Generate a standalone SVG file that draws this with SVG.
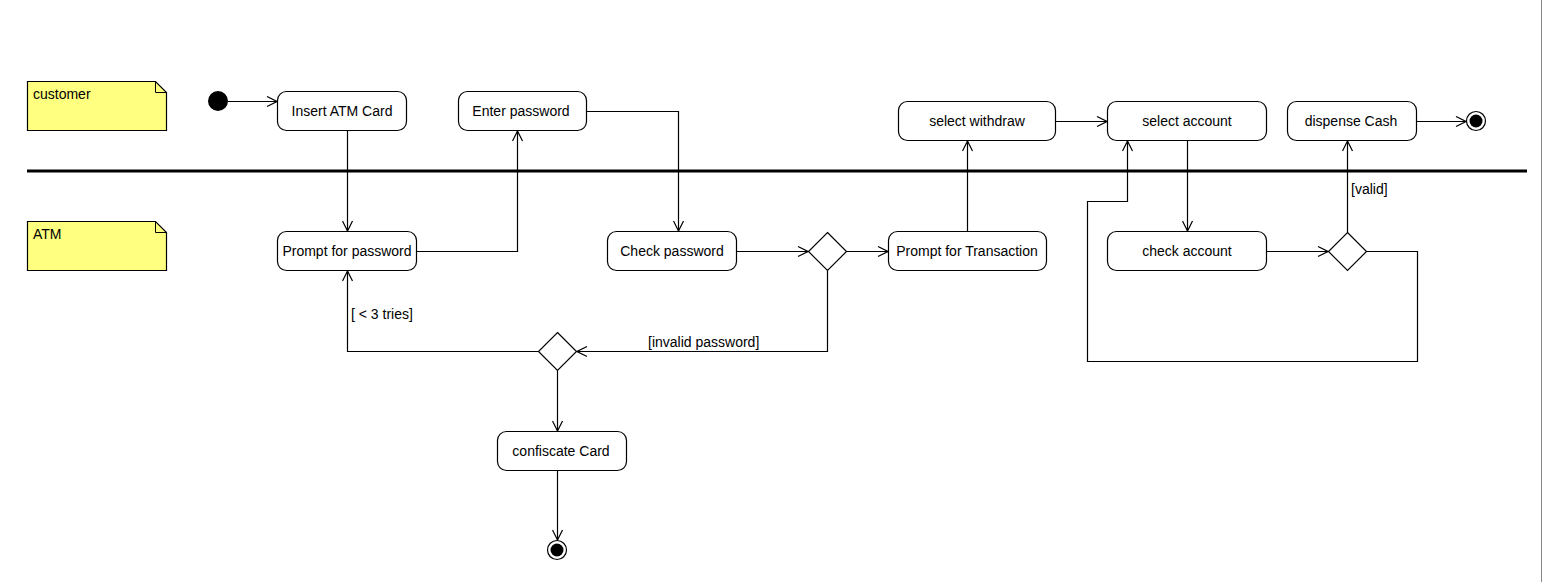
<svg xmlns="http://www.w3.org/2000/svg" width="1545" height="582" viewBox="0 0 1545 582">
<style>
.n{fill:#fff;stroke:#000;stroke-width:1.2}
.t{font-family:"Liberation Sans",Arial,sans-serif;font-size:14px;fill:#000}
.c{fill:none;stroke:#000;stroke-width:1.2}
.note{fill:#ffff80;stroke:#000;stroke-width:1.2}
</style>
<defs>
<marker id="a" markerWidth="12" markerHeight="12" viewBox="0 0 12 12" refX="11" refY="6" orient="auto" markerUnits="userSpaceOnUse">
<path d="M1,1 L11,6 L1,11" fill="none" stroke="#000" stroke-width="1.2"/>
</marker>
</defs>
<rect x="0" y="0" width="1545" height="582" fill="#fff"/>
<line x1="1541.5" y1="0" x2="1541.5" y2="582" stroke="#888" stroke-width="1"/>
<line x1="27" y1="171" x2="1527" y2="171" stroke="#000" stroke-width="3"/>

<g id="note-customer">
<path class="note" d="M27.5,81.5 H155.5 L166.5,92.5 V130.5 H27.5 Z"/>
<path d="M155.5,81.5 V92.5 H166.5" fill="none" stroke="#000" stroke-width="1"/>
<text class="t" x="33" y="99">customer</text>
</g>
<g id="note-atm">
<path class="note" d="M27.5,221.5 H155.5 L166.5,232.5 V270.5 H27.5 Z"/>
<path d="M155.5,221.5 V232.5 H166.5" fill="none" stroke="#000" stroke-width="1"/>
<text class="t" x="33" y="239">ATM</text>
</g>

<g id="start"><circle cx="218" cy="101" r="10" fill="#000"/></g>

<g id="insert-card"><rect class="n" x="277.5" y="91.5" width="129" height="39" rx="9"/><text class="t" x="342" y="116" text-anchor="middle">Insert ATM Card</text></g>
<g id="enter-password"><rect class="n" x="458.5" y="91.5" width="128" height="39" rx="9"/><text class="t" x="521" y="116" text-anchor="middle">Enter password</text></g>
<g id="select-withdraw"><rect class="n" x="898.5" y="101.5" width="157" height="39" rx="9"/><text class="t" x="977" y="126" text-anchor="middle">select withdraw</text></g>
<g id="select-account"><rect class="n" x="1107.5" y="101.5" width="159" height="39" rx="9"/><text class="t" x="1187" y="126" text-anchor="middle">select account</text></g>
<g id="dispense-cash"><rect class="n" x="1287.5" y="101.5" width="129" height="39" rx="9"/><text class="t" x="1351" y="126" text-anchor="middle">dispense Cash</text></g>
<g id="end1"><circle cx="1476" cy="121" r="9.5" fill="#fff" stroke="#000" stroke-width="1.2"/><circle cx="1476" cy="121" r="6.5" fill="#000"/></g>

<g id="prompt-password"><rect class="n" x="277.5" y="231.5" width="139" height="39" rx="9"/><text class="t" x="347" y="256" text-anchor="middle">Prompt for password</text></g>
<g id="check-password"><rect class="n" x="607.5" y="231.5" width="129" height="39" rx="9"/><text class="t" x="672" y="256" text-anchor="middle">Check password</text></g>
<g id="decision1"><path class="n" d="M827.5,232.5 L846.5,251.5 L827.5,270.5 L808.5,251.5 Z"/></g>
<g id="prompt-transaction"><rect class="n" x="888.5" y="231.5" width="158" height="39" rx="9"/><text class="t" x="967" y="256" text-anchor="middle">Prompt for Transaction</text></g>
<g id="check-account"><rect class="n" x="1107.5" y="231.5" width="159" height="39" rx="9"/><text class="t" x="1187" y="256" text-anchor="middle">check account</text></g>
<g id="decision2"><path class="n" d="M1347.5,232.5 L1366.5,251.5 L1347.5,270.5 L1328.5,251.5 Z"/></g>
<g id="decision3"><path class="n" d="M557.5,332.5 L576.5,351.5 L557.5,370.5 L538.5,351.5 Z"/></g>
<g id="confiscate-card"><rect class="n" x="497.5" y="431.5" width="129" height="39" rx="9"/><text class="t" x="561" y="456" text-anchor="middle">confiscate Card</text></g>
<g id="end2"><circle cx="557" cy="550" r="9.5" fill="#fff" stroke="#000" stroke-width="1.2"/><circle cx="557" cy="550" r="6.5" fill="#000"/></g>

<g id="connectors">
<path class="c" d="M228,101.5 H277" marker-end="url(#a)"/>
<path class="c" d="M347.5,130.5 V231" marker-end="url(#a)"/>
<path class="c" d="M416.5,251.5 H517.5 V131" marker-end="url(#a)"/>
<path class="c" d="M586.5,111.5 H678.5 V231" marker-end="url(#a)"/>
<path class="c" d="M736.5,251.5 H808" marker-end="url(#a)"/>
<path class="c" d="M846.5,251.5 H888" marker-end="url(#a)"/>
<path class="c" d="M967.5,231.5 V141" marker-end="url(#a)"/>
<path class="c" d="M1055.5,121.5 H1107" marker-end="url(#a)"/>
<path class="c" d="M1187.5,140.5 V231" marker-end="url(#a)"/>
<path class="c" d="M1266.5,251.5 H1328" marker-end="url(#a)"/>
<path class="c" d="M1347.5,232.5 V141" marker-end="url(#a)"/>
<path class="c" d="M1366.5,251.5 H1417.5 V361.5 H1087.5 V201.5 H1127.5 V141" marker-end="url(#a)"/>
<path class="c" d="M1416.5,121.5 H1466" marker-end="url(#a)"/>
<path class="c" d="M827.5,270.5 V351.5 H577" marker-end="url(#a)"/>
<path class="c" d="M538.5,351.5 H347.5 V271" marker-end="url(#a)"/>
<path class="c" d="M557.5,370.5 V431" marker-end="url(#a)"/>
<path class="c" d="M557.5,470.5 V540" marker-end="url(#a)"/>
<text class="t" x="1351" y="194">[valid]</text>
<text class="t" x="648" y="347">[invalid password]</text>
<text class="t" x="351" y="319">[ &lt; 3 tries]</text>
</g>
</svg>
